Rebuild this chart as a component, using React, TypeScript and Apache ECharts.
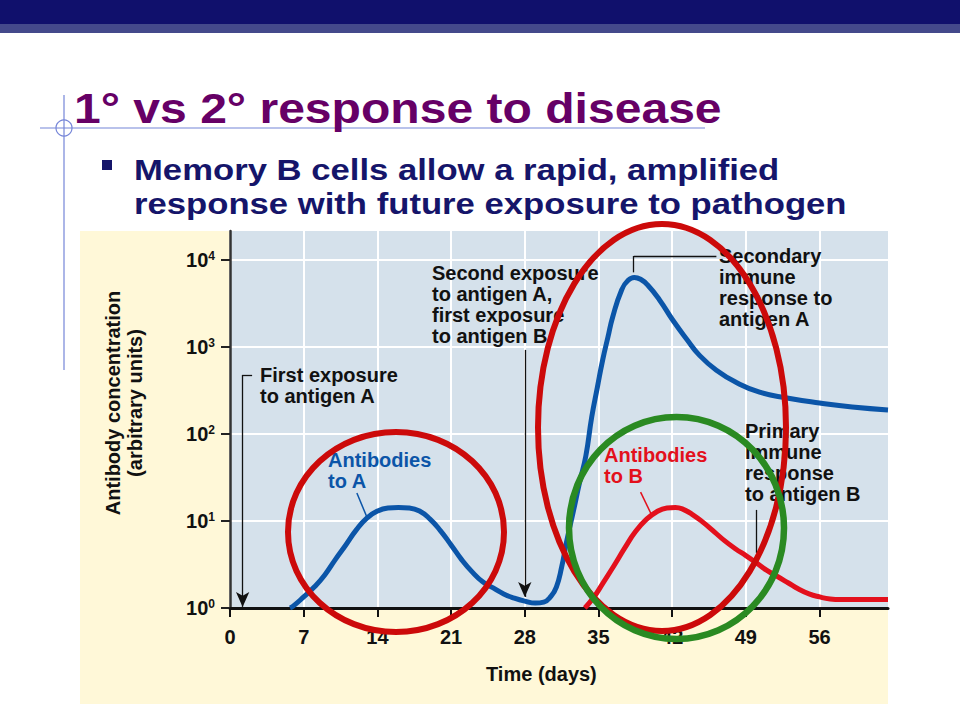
import React, { useEffect, useRef } from "react";
import * as echarts from "echarts";

// ---- data ----
const xTickDays = [0, 7, 14, 21, 28, 35, 42, 49, 56];
const yTickValues = [1, 10, 100, 1000, 10000];

const blueDays = [5.7, 6, 7, 8, 9, 10, 11, 12, 13, 14, 15, 16, 17, 18, 19, 20, 21, 22, 23, 24, 25, 26, 27, 28, 29, 29.8, 30.5, 31, 31.5, 32, 32.6, 33.2, 33.8, 34.36, 34.9, 35.4, 35.9, 36.35, 37.2, 37.8, 38.4, 39.0, 39.67, 40.8, 42.05, 43.4, 44.6, 46.2, 48.1, 50.3, 52.9, 56.0, 59.1, 62.5];
const blueValues = [1, 1.05, 1.34, 1.74, 2.4, 3.6, 5.3, 7.9, 10.8, 13, 14.1, 14.3, 14.1, 13, 10.5, 7.7, 5.3, 3.6, 2.6, 2.0, 1.7, 1.45, 1.3, 1.2, 1.14, 1.17, 1.37, 1.74, 2.95, 6.0, 12.7, 27.5, 56, 157, 347, 710, 1300, 2210, 4520, 5800, 6300, 6000, 5150, 3470, 2040, 1220, 800, 540, 390, 302, 259, 227, 204, 189];

const redDays = [33.7, 34.5, 35.5, 36.5, 37.5, 38.5, 39.5, 40.5, 41.5, 42.3, 43, 44, 45, 46, 47, 48, 49, 50, 51, 52, 53, 54, 55, 56, 57, 58, 62.5];
const redValues = [1, 1.3, 2.0, 3.1, 4.9, 7.5, 10.3, 12.7, 14.1, 14.3, 13.7, 11.7, 9.5, 7.5, 5.9, 4.8, 4.0, 3.3, 2.7, 2.3, 1.95, 1.65, 1.45, 1.34, 1.27, 1.25, 1.25];

const titleText = "1° vs 2° response to disease";
const bulletLines = ["Memory B cells allow a rapid, amplified", "response with future exposure to pathogen"];
const yAxisName = ["Antibody concentration", "(arbitrary units)"];
const xAxisName = "Time (days)";

const FONT = '"Liberation Sans", Arial, Helvetica, sans-serif';
const BLUE = "#0b55a8";
const RED = "#e3101c";

function textBlock(x: number, firstBaseline: number, lines: string[], color: string, fs = 20, lh = 21, extra: any = {}) {
  const cy = firstBaseline - 0.3465 * fs + ((lines.length - 1) * lh) / 2;
  return {
    type: "text",
    x,
    y: cy,
    z: 10,
    style: {
      text: lines.join("\n"),
      fill: color,
      fontSize: fs,
      fontWeight: "bold",
      fontFamily: FONT,
      lineHeight: lh,
      align: "left",
      verticalAlign: "middle",
    },
    ...extra,
  };
}

export default function App() {
  const ref = useRef<HTMLDivElement>(null);
  useEffect(() => {
    if (!ref.current) return;
    const chart = echarts.init(ref.current, undefined, { renderer: "svg" });

    const leaderBlack = { color: "#111", width: 1.3, type: "solid" };
    const option: any = {
      animation: false,
      backgroundColor: "#ffffff",
      grid: {
        left: 230,
        top: 231,
        width: 658,
        height: 377,
        show: true,
        backgroundColor: "#d5e1eb",
        borderWidth: 0,
        containLabel: false,
      },
      xAxis: {
        type: "value",
        min: 0,
        max: 62.5,
        interval: 7,
        axisLine: { show: true, lineStyle: { color: "#111", width: 3 } },
        axisTick: { show: true, length: 9, lineStyle: { color: "#111", width: 2 }, customValues: xTickDays },
        axisLabel: {
          customValues: xTickDays,
          margin: 19,
          color: "#111",
          fontSize: 20,
          fontWeight: "bold",
          fontFamily: FONT,
        },
        splitLine: { show: true, lineStyle: { color: "#ffffff", width: 2 } },
      },
      yAxis: {
        type: "log",
        logBase: 10,
        min: 1,
        max: 21500,
        axisLine: { show: true, lineStyle: { color: "#333", width: 2.5 } },
        axisTick: { show: true, length: 9, lineStyle: { color: "#222", width: 2 }, customValues: yTickValues },
        axisLabel: {
          customValues: yTickValues,
          margin: 15,
          formatter: (v: number) => "{a|10}{b|" + Math.round(Math.log10(v)) + "}",
          rich: {
            a: { fontSize: 20, fontWeight: "bold", fontFamily: FONT, color: "#111" },
            b: { fontSize: 12, fontWeight: "bold", fontFamily: FONT, color: "#111", verticalAlign: "top" },
          },
        },
        splitLine: { show: true, showMaxLine: true, lineStyle: { color: "#ffffff", width: 2 } },
      },
      series: [
        {
          type: "line",
          data: blueDays.map((d, i) => [d, blueValues[i]]),
          smooth: 0.5,
          symbol: "none",
          lineStyle: { color: BLUE, width: 5 },
          z: 3,
        },
        {
          type: "line",
          data: redDays.map((d, i) => [d, redValues[i]]),
          smooth: 0.5,
          symbol: "none",
          lineStyle: { color: RED, width: 5 },
          z: 3,
        },
        {
          type: "line",
          data: [],
          symbol: "none",
          markLine: {
            silent: true,
            symbol: ["none", "none"],
            label: { show: false },
            lineStyle: leaderBlack,
            emphasis: { disabled: true },
            data: [
              [{ coord: [1.2, 477] }, { coord: [1.2, 1.03], symbol: "arrow", symbolSize: [10, 15] }],
              [{ coord: [1.2, 477] }, { coord: [2.1, 477] }],
              [{ coord: [28.0, 925] }, { coord: [28.0, 1.34], symbol: "arrow", symbolSize: [10, 15] }],
              [{ coord: [46.2, 11100] }, { coord: [38.35, 11100] }],
              [{ coord: [38.35, 11100] }, { coord: [38.35, 7200] }],
              [{ coord: [50.0, 13.4] }, { coord: [50.0, 4.3] }],
              [{ coord: [12.05, 21], lineStyle: { color: BLUE, width: 1.5 } }, { coord: [13.0, 11.1] }],
              [{ coord: [39.0, 21.5], lineStyle: { color: RED, width: 1.5 } }, { coord: [40.05, 11.7] }],
            ],
          },
        },
      ],
      graphic: [
        // top bars
        { type: "rect", z: 1, shape: { x: 0, y: 0, width: 960, height: 24 }, style: { fill: "#10106c" } },
        { type: "rect", z: 1, shape: { x: 0, y: 24, width: 960, height: 9 }, style: { fill: "#44498b" } },
        // yellow panel
        { type: "rect", z: -5, shape: { x: 80, y: 231, width: 808, height: 473 }, style: { fill: "#fff8d8" } },
        // decorative guide lines
        { type: "line", z: 1, shape: { x1: 40, y1: 128, x2: 705, y2: 128 }, style: { stroke: "#7585d8", lineWidth: 1.2 } },
        { type: "line", z: 1, shape: { x1: 64, y1: 95, x2: 64, y2: 370 }, style: { stroke: "#7585d8", lineWidth: 1.2 } },
        { type: "circle", z: 1, shape: { cx: 64, cy: 128, r: 8 }, style: { fill: "none", stroke: "#7585d8", lineWidth: 1.2 } },
        // title
        {
          type: "text",
          x: 74,
          y: 123 - 0.3465 * 42,
          scaleX: 1.145,
          z: 5,
          style: { text: titleText, fill: "#660066", fontSize: 42, fontWeight: "bold", fontFamily: FONT, align: "left", verticalAlign: "middle" },
        },
        // bullet
        { type: "rect", z: 5, shape: { x: 102, y: 160, width: 10, height: 10 }, style: { fill: "#15156a" } },
        {
          type: "text",
          x: 134,
          y: 180 - 0.3465 * 30 + 17,
          scaleX: 1.156,
          z: 5,
          style: { text: bulletLines.join("\n"), fill: "#15156a", fontSize: 30, fontWeight: "bold", fontFamily: FONT, lineHeight: 34, align: "left", verticalAlign: "middle" },
        },
        // axis names
        {
          type: "text",
          x: 124,
          y: 403,
          rotation: Math.PI / 2,
          z: 5,
          style: { text: yAxisName.join("\n"), fill: "#111", fontSize: 20, fontWeight: "bold", fontFamily: FONT, lineHeight: 22, align: "center", verticalAlign: "middle" },
        },
        textBlock(486, 681, [xAxisName], "#111"),
        // annotations
        textBlock(260, 382, ["First exposure", "to antigen A"], "#111"),
        textBlock(432, 280, ["Second exposure", "to antigen A,", "first exposure", "to antigen B"], "#111"),
        textBlock(719, 263, ["Secondary", "immune", "response to", "antigen A"], "#111"),
        textBlock(745, 438, ["Primary", "immune", "response", "to antigen B"], "#111"),
        textBlock(328, 467, ["Antibodies", "to A"], BLUE),
        textBlock(604, 462, ["Antibodies", "to B"], RED),
        // highlight ellipses
        { type: "ellipse", z: 100, shape: { cx: 396, cy: 532, rx: 108, ry: 100 }, style: { fill: "none", stroke: "#cc0a0a", lineWidth: 6 } },
        { type: "ellipse", z: 100, shape: { cx: 662, cy: 427.5, rx: 124, ry: 203.5 }, style: { fill: "none", stroke: "#cc0a0a", lineWidth: 6 } },
        { type: "ellipse", z: 101, shape: { cx: 676.5, cy: 528, rx: 107.5, ry: 111 }, style: { fill: "none", stroke: "#2a8a22", lineWidth: 6.5 } },
      ],
    };
    chart.setOption(option);
    return () => chart.dispose();
  }, []);
  return <div ref={ref} style={{ position: "absolute", left: 0, top: 0, width: 960, height: 720 }} />;
}
